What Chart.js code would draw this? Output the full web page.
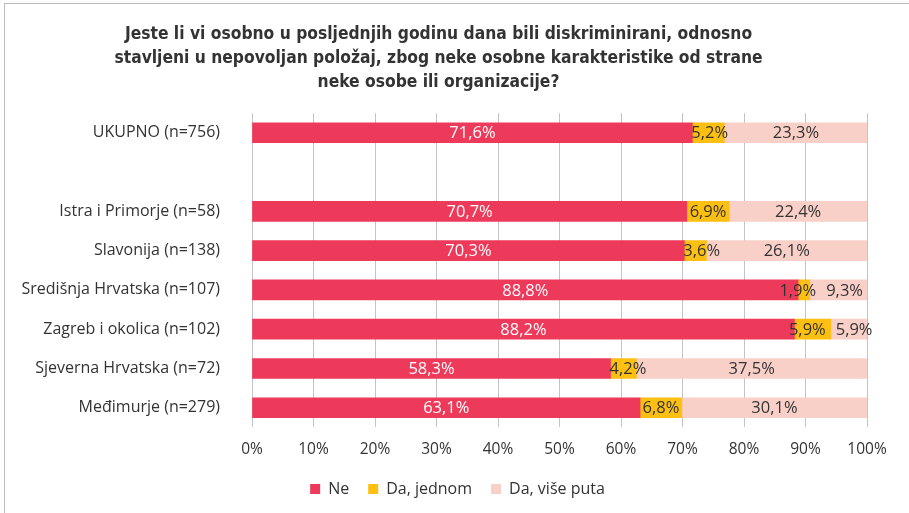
<!DOCTYPE html>
<html>
<head>
<meta charset="utf-8">
<script src="https://cdn.jsdelivr.net/npm/chart.js@4"></script>
<style>
  body { margin: 0; background: #fff; }
  #wrap { position: relative; width: 909px; height: 513px; overflow: hidden; }
  #frame { position: absolute; left: 4px; top: 3px; width: 1000px; height: 1000px; border: 1px solid #bdbdbd; pointer-events: none; }
</style>
</head>
<body>
<div id="wrap">
  <canvas id="chart" width="909" height="513"></canvas>
  <div id="frame"></div>
</div>
<script>
// regions (empty row separates the total from the regions)
var categories = [
  "UKUPNO (n=756)",
  "",
  "Istra i Primorje (n=58)",
  "Slavonija (n=138)",
  "Središnja Hrvatska (n=107)",
  "Zagreb i okolica (n=102)",
  "Sjeverna Hrvatska (n=72)",
  "Međimurje (n=279)"
];
var ne = [71.6, null, 70.7, 70.3, 88.8, 88.2, 58.3, 63.1];
var daJednom = [5.2, null, 6.9, 3.6, 1.9, 5.9, 4.2, 6.8];
var daVisePuta = [23.3, null, 22.4, 26.1, 9.3, 5.9, 37.5, 30.1];
var xTicks = [0, 10, 20, 30, 40, 50, 60, 70, 80, 90, 100];

var titleLines = [
  "Jeste li vi osobno u posljednjih godinu dana bili diskriminirani, odnosno",
  "stavljeni u nepovoljan položaj, zbog neke osobne karakteristike od strane",
  "neke osobe ili organizacije?"
];

var condensed = "'Liberation Sans Narrow', 'DejaVu Sans Condensed', sans-serif";
var wide = "'Open Sans', 'Noto Sans', sans-serif";

// values written in the middle of each segment; labels that collide
// are pushed apart, narrow ones are kept from running into the previous segment
const valueLabels = {
  id: "valueLabels",
  afterDatasetsDraw(chart) {
    var ctx = chart.ctx;
    var nSets = chart.data.datasets.length;
    ctx.save();
    ctx.font = "16.5px " + wide;
    ctx.textAlign = "left";
    ctx.textBaseline = "middle";
    chart.data.labels.forEach(function (cat, j) {
      var row = [];
      for (var i = 0; i < nSets; i++) {
        var v = chart.data.datasets[i].data[j];
        if (v == null) continue;
        var bar = chart.getDatasetMeta(i).data[j];
        var txt = v.toFixed(1).replace(".", ",") + "%";
        var w = ctx.measureText(txt).width;
        var start = Math.min(bar.x, bar.base);
        var cx = (bar.x + bar.base) / 2;
        row.push({ ds: i, txt: txt, w: w, left: cx - w / 2, start: start, y: bar.y, moved: false });
      }
      for (var k = 0; k < row.length - 1; k++) {
        var a = row[k], b = row[k + 1];
        var gap = b.left - (a.left + a.w);
        if (gap < 10) {
          var d = (10 - gap) / 2;
          a.left -= d;
          b.left += d;
          a.moved = b.moved = true;
        }
      }
      row.forEach(function (l) {
        if (!l.moved && l.ds > 0 && l.left < l.start - 1) l.left = l.start - 1;
        ctx.fillStyle = l.ds == 0 ? "#ffffff" : "#333333";
        ctx.fillText(l.txt, l.left, l.y + 1);
      });
    });
    ctx.restore();
  }
};

// legend is centred on the whole canvas, not on the padded area
const legendShift = {
  id: "legendShift",
  afterLayout(chart) {
    chart.legend.left += 19;
    chart.legend.right += 19;
  }
};

var ctx = document.getElementById("chart").getContext("2d");
var chart = new Chart(ctx, {
  type: "bar",
  data: {
    labels: categories,
    datasets: [
      { label: "Ne", data: ne, backgroundColor: "#ee3a5a" },
      { label: "Da, jednom", data: daJednom, backgroundColor: "#fcbf12" },
      { label: "Da, više puta", data: daVisePuta, backgroundColor: "#f9d0c8" }
    ]
  },
  options: {
    indexAxis: "y",
    responsive: false,
    animation: false,
    layout: { padding: { left: 10, right: 42, top: 12, bottom: 6 } },
    datasets: { bar: { barThickness: 20, borderWidth: 0 } },
    scales: {
      x: {
        stacked: true,
        min: 0,
        max: 100,
        afterBuildTicks: function (axis) {
          axis.ticks = xTicks.map(function (v) { return { value: v }; });
        },
        // less room under the tick labels so the legend sits close
        afterFit: function (scale) { scale.height -= 10; },
        grid: { color: "#c4c4c4", lineWidth: 1, drawTicks: false },
        border: { display: false },
        ticks: {
          padding: 13,
          color: "#333333",
          font: { family: wide, size: 15.5 },
          callback: function (v) { return v + "%"; }
        }
      },
      y: {
        stacked: true,
        grid: { display: false },
        border: { display: false },
        afterFit: function (scale) { scale.width = 242; },
        ticks: {
          padding: 24,
          color: "#333333",
          font: { family: wide, size: 16 }
        }
      }
    },
    plugins: {
      title: {
        display: true,
        text: titleLines,
        color: "#333333",
        font: { family: condensed, size: 17.3, weight: "bold", lineHeight: 1.39 },
        padding: { top: 10, bottom: 19 }
      },
      legend: {
        position: "bottom",
        labels: {
          boxWidth: 10,
          boxHeight: 10,
          padding: 19,
          color: "#333333",
          font: { family: wide, size: 16 }
        }
      },
      tooltip: { enabled: false }
    }
  },
  plugins: [valueLabels, legendShift]
});
</script>
</body>
</html>
